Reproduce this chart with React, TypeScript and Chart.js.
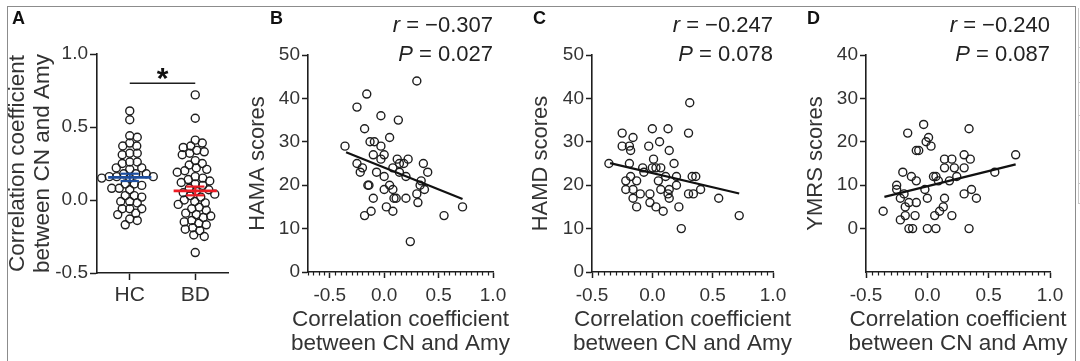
import React, { useEffect, useRef } from "react";
import { Chart, registerables } from "chart.js";

Chart.register(...registerables);

// ---------------- Data ----------------
// Panel A: correlation coefficient between CN and Amy per group
const groupLabels = ["HC", "BD"];
const hcCorr = [0.61, 0.55, 0.44, 0.43, 0.39, 0.37, 0.37, 0.32, 0.32, 0.31, 0.26, 0.26, 0.25, 0.22, 0.22, 0.21, 0.18, 0.18, 0.18, 0.16, 0.16, 0.16, 0.15, 0.15, 0.11, 0.11, 0.1, 0.08, 0.08, 0.07, 0.03, 0.03, 0.02, -0.01, -0.01, -0.02, -0.06, -0.06, -0.06, -0.09, -0.1, -0.13, -0.14, -0.17];
const bdCorr = [0.72, 0.56, 0.41, 0.39, 0.37, 0.36, 0.34, 0.33, 0.32, 0.31, 0.27, 0.25, 0.24, 0.22, 0.21, 0.2, 0.19, 0.16, 0.15, 0.14, 0.13, 0.12, 0.11, 0.1, 0.08, 0.07, 0.06, 0.05, 0.04, 0.03, 0.02, 0.0, -0.01, -0.02, -0.03, -0.05, -0.06, -0.07, -0.09, -0.1, -0.11, -0.12, -0.14, -0.15, -0.16, -0.17, -0.19, -0.2, -0.21, -0.24, -0.25, -0.36];
const groupMeans = [0.155, 0.062];
const groupSems = [0.025, 0.03];
const sigLevel = 0.8;
const sigMark = "*";
const aYTicks = [1.0, 0.5, 0.0, -0.5];
const aYTitle = ["Correlation coefficient", "between CN and Amy"];

// Panels B-D: BD correlation vs clinical scores
const hamaX = [-0.36, -0.25, -0.16, -0.18, -0.03, 0.13, 0.3, 0.05, -0.13, -0.09, -0.03, -0.1, 0.0, -0.03, -0.25, -0.2, -0.22, -0.07, 0.0, 0.08, 0.12, 0.14, 0.18, 0.22, 0.14, 0.2, 0.36, 0.4, 0.34, 0.33, 0.37, 0.3, 0.31, 0.05, 0.0, 0.08, 0.09, 0.11, 0.2, -0.15, -0.14, -0.1, 0.02, 0.08, -0.12, -0.18, 0.55, 0.72, 0.24];
const hamaY = [29, 38, 41, 33, 36, 35, 44, 31, 30, 30, 29, 27, 27, 26, 25, 24, 23, 23, 22, 24, 26, 25, 25, 26, 23, 22, 25, 23, 21, 20, 19, 18, 16, 20, 19, 19, 17, 17, 17, 20, 20, 17, 15, 14, 14, 13, 13, 15, 7];
const hamdX = [-0.36, -0.25, -0.25, -0.19, -0.16, -0.18, -0.19, -0.22, -0.18, -0.22, -0.13, -0.16, -0.1, -0.16, -0.13, -0.08, -0.07, -0.03, 0.0, 0.06, 0.01, 0.0, 0.03, -0.02, -0.02, 0.03, 0.09, 0.07, 0.11, 0.05, 0.07, 0.13, 0.14, 0.14, 0.13, 0.14, 0.18, 0.2, 0.2, 0.22, 0.24, 0.31, 0.3, 0.3, 0.34, 0.33, 0.36, 0.4, 0.55, 0.72];
const hamdY = [25, 32, 29, 29, 31, 28, 25, 21, 22, 19, 21, 19, 18, 17, 15, 24, 23, 29, 33, 30, 26, 24, 24, 18, 16, 15, 14, 24, 22, 21, 19, 18, 19, 17, 33, 28, 25, 22, 20, 15, 10, 39, 32, 18, 18, 22, 22, 19, 17, 13];
const ymrsX = [-0.36, -0.25, -0.25, -0.2, -0.22, -0.19, -0.22, -0.18, -0.18, -0.15, -0.16, -0.13, -0.09, -0.09, -0.1, -0.15, -0.12, -0.09, -0.07, -0.03, 0.01, -0.01, 0.03, -0.02, 0.0, 0.0, 0.07, 0.05, 0.07, 0.09, 0.06, 0.1, 0.13, 0.14, 0.14, 0.14, 0.18, 0.2, 0.22, 0.24, 0.2, 0.3, 0.3, 0.3, 0.34, 0.35, 0.36, 0.4, 0.34, 0.55, 0.72];
const ymrsY = [4, 10, 9, 13, 7, 8, 2, 3, 5, 6, 22, 12, 11, 6, 3, 0, 0, 18, 18, 24, 21, 20, 19, 9, 7, 0, 0, 12, 12, 11, 3, 4, 5, 7, 14, 16, 11, 16, 14, 12, 3, 17, 14, 8, 23, 16, 9, 7, 0, 13, 17];
const fitX = [-0.35, 0.72];
const hamaFitY = [27.6, 16.8];
const hamdFitY = [25.1, 18.1];
const ymrsFitY = [7.3, 14.8];
const statR = ["\u22120.307", "\u22120.247", "\u22120.240"];
const statP = ["0.027", "0.078", "0.087"];
const scoreTitles = ["HAMA scores", "HAMD scores", "YMRS scores"];
const corrTicks = [-0.5, 0.0, 0.5, 1.0];
const xTitle = ["Correlation coefficient", "between CN and Amy"];

// ---------------- Styles ----------------
const FONT = "'Liberation Sans', Arial, Helvetica, sans-serif";
const TEXT = "#333333";
const INK = "#1e1e1e";
const groupColors = ["#1d4e9e", "#ec1c24"];
const W = 1080;
const H = 361;

function swarmOffsets(values: number[], pxPerUnit: number, diam: number): number[] {
  const order = values.map((_, i) => i).sort((a, b) => values[b] - values[a]);
  const placed: { x: number; y: number }[] = [];
  const out = new Array(values.length).fill(0);
  for (const i of order) {
    const y = values[i] * pxPerUnit;
    let best = 0;
    for (let k = 0; k < 400; k++) {
      const cand = (k % 2 === 1 ? 1 : -1) * Math.ceil(k / 2) * 0.5;
      let ok = true;
      for (const p of placed) {
        const dx = p.x - cand;
        const dy = p.y - y;
        if (dx * dx + dy * dy < diam * diam) { ok = false; break; }
      }
      if (ok) { best = cand; break; }
    }
    placed.push({ x: best, y });
    out[i] = best;
  }
  return out;
}

function yAxis(min: number, max: number, ticks: number[], fmt: (v: number) => string, title: any, titleSize: number, titleLH: number, width: number, tickLen: number) {
  return {
    type: "linear",
    position: "left",
    min,
    max,
    afterBuildTicks: (s: any) => { s.ticks = ticks.map((v) => ({ value: v })); },
    afterFit: (s: any) => { s.width = width; },
    ticks: { font: { family: FONT, size: 19 }, color: TEXT, padding: 2, autoSkip: false, maxRotation: 0, callback: (v: any) => fmt(Number(v)) },
    grid: { display: true, drawOnChartArea: false, drawTicks: true, tickLength: tickLen, tickWidth: 1.5, tickColor: INK },
    border: { display: true, color: INK, width: 1.6 },
    title: { display: true, text: title, color: TEXT, padding: 0, font: { family: FONT, size: titleSize, lineHeight: titleLH } },
  };
}

function xAxis(min: number, max: number, ticks: number[], fmt: (v: number) => string, height: number, fontSize: number, pad: number, tickLen: number) {
  return {
    type: "linear",
    position: "bottom",
    min,
    max,
    afterBuildTicks: (s: any) => { s.ticks = ticks.map((v) => ({ value: v })); },
    afterFit: (s: any) => { s.height = height; },
    ticks: { font: { family: FONT, size: fontSize }, color: TEXT, padding: pad, autoSkip: false, maxRotation: 0, callback: (v: any) => fmt(Number(v)) },
    grid: { display: true, drawOnChartArea: false, drawTicks: true, tickLength: tickLen, tickWidth: 1.5, tickColor: INK },
    border: { display: true, color: INK, width: 1.6 },
  };
}

function drawLetter(ctx: CanvasRenderingContext2D, letter: string, x: number) {
  ctx.font = `bold 18px ${FONT}`;
  ctx.fillStyle = "#111";
  ctx.textAlign = "left";
  ctx.textBaseline = "middle";
  ctx.fillText(letter, x, 19);
}

function drawStat(ctx: CanvasRenderingContext2D, sym: string, rest: string, xRight: number, y: number) {
  ctx.fillStyle = "#222";
  ctx.textBaseline = "middle";
  ctx.font = `22px ${FONT}`;
  const w = ctx.measureText(rest).width;
  ctx.textAlign = "right";
  ctx.fillText(rest, xRight, y);
  ctx.font = `italic 22px ${FONT}`;
  ctx.fillText(sym, xRight - w, y);
}

// ---------------- Panel A ----------------
const A_AREA = { left: 97, top: 54, right: 228, bottom: 273 };
function panelAConfig() {
  const yPx = (A_AREA.bottom - A_AREA.top) / 1.5;
  const xPx = (A_AREA.right - A_AREA.left) / 2;
  const groups = [hcCorr, bdCorr];
  const pointSets = groups.map((vals, g) => {
    const offs = swarmOffsets(vals, yPx, 7.2);
    return vals.map((v, i) => ({ x: g + offs[i] / xPx, y: v }));
  });
  const lineDs = (pts: any[], color: string, width: number) => ({
    data: pts, showLine: true, borderColor: color, borderWidth: width, pointRadius: 0, fill: false, clip: false,
  });
  const datasets: any[] = [];
  groupMeans.forEach((m, g) => {
    const s = groupSems[g];
    const c = groupColors[g];
    datasets.push(lineDs([{ x: g - 0.33, y: m }, { x: g + 0.33, y: m }], c, 2.8));
    datasets.push(lineDs([{ x: g, y: m - s }, { x: g, y: m + s }], c, 2.2));
    datasets.push(lineDs([{ x: g - 0.14, y: m + s }, { x: g + 0.14, y: m + s }], c, 2.2));
    datasets.push(lineDs([{ x: g - 0.14, y: m - s }, { x: g + 0.14, y: m - s }], c, 2.2));
  });
  datasets.push(lineDs([{ x: 0, y: sigLevel }, { x: 1, y: sigLevel }], INK, 1.6));
  pointSets.forEach((pts) => {
    datasets.push({ data: pts, pointRadius: 4, borderWidth: 1.4, borderColor: INK, backgroundColor: "rgba(255,255,255,0)", pointHoverRadius: 4 });
  });
  const titleCenter = 18;
  const lh = 25;
  const padLeft = titleCenter - lh / 2;
  return {
    type: "scatter",
    data: { datasets },
    options: {
      animation: false, responsive: false, maintainAspectRatio: false, devicePixelRatio: 1, events: [],
      layout: { padding: { left: padLeft, top: A_AREA.top, right: W - A_AREA.right, bottom: 0 } },
      plugins: { legend: { display: false }, tooltip: { enabled: false } },
      scales: {
        x: xAxis(-0.5, 1.5, [0, 1], (v) => groupLabels[Math.round(v)] ?? "", H - A_AREA.bottom, 21, 3, 7),
        y: yAxis(-0.5, 1.0, aYTicks, (v) => v.toFixed(1), aYTitle, 22.5, lh / 22.5, A_AREA.left - padLeft, 7),
      },
    },
    plugins: [{
      id: "overlayA",
      afterDraw(chart: any) {
        const ctx = chart.ctx as CanvasRenderingContext2D;
        ctx.save();
        drawLetter(ctx, "A", 12);
        const xs = chart.scales.x;
        const ys = chart.scales.y;
        ctx.font = `bold 30px ${FONT}`;
        ctx.fillStyle = "#111";
        ctx.textAlign = "center";
        ctx.textBaseline = "alphabetic";
        ctx.fillText(sigMark, xs.getPixelForValue(0.5), ys.getPixelForValue(sigLevel) + 4.5);
        ctx.restore();
      },
    }],
  };
}

// ---------------- Panels B-D ----------------
const scatterPanels = [
  { letter: "B", letterX: 270, area: { left: 308, top: 55, right: 493, bottom: 272 }, xMin: -0.7, yMin: 0, yMax: 50, yTicks: [0, 10, 20, 30, 40, 50], xs: hamaX, ys: hamaY, fitY: hamaFitY, titleCenter: 258 },
  { letter: "C", letterX: 533, area: { left: 592, top: 55, right: 773, bottom: 272 }, xMin: -0.5, yMin: 0, yMax: 50, yTicks: [0, 10, 20, 30, 40, 50], xs: hamdX, ys: hamdY, fitY: hamdFitY, titleCenter: 541 },
  { letter: "D", letterX: 807, area: { left: 866, top: 55, right: 1050, bottom: 272 }, xMin: -0.5, yMin: -10, yMax: 40, yTicks: [0, 10, 20, 30, 40], xs: ymrsX, ys: ymrsY, fitY: ymrsFitY, titleCenter: 816 },
];

function scatterConfig(idx: number) {
  const p = scatterPanels[idx];
  const lh = 22 * 1.2;
  const padLeft = p.titleCenter - lh / 2;
  const xMax = 1.0;
  return {
    type: "scatter",
    data: {
      datasets: [
        { data: fitX.map((x, i) => ({ x, y: p.fitY[i] })), showLine: true, borderColor: "#111", borderWidth: 2.2, pointRadius: 0, fill: false },
        { data: p.xs.map((x, i) => ({ x, y: p.ys[i] })), pointRadius: 4, borderWidth: 1.4, borderColor: INK, backgroundColor: "rgba(255,255,255,0)", pointHoverRadius: 4 },
      ],
    },
    options: {
      animation: false, responsive: false, maintainAspectRatio: false, devicePixelRatio: 1, events: [],
      layout: { padding: { left: padLeft, top: p.area.top, right: W - p.area.right, bottom: 0 } },
      plugins: { legend: { display: false }, tooltip: { enabled: false } },
      scales: {
        x: xAxis(p.xMin, xMax, corrTicks, (v) => v.toFixed(1), H - p.area.bottom, 19, 6, 6),
        y: yAxis(p.yMin, p.yMax, p.yTicks, (v) => String(Math.round(v)), scoreTitles[idx], 22, 1.2, p.area.left - padLeft, 6),
      },
    },
    plugins: [{
      id: "overlay" + p.letter,
      afterDraw(chart: any) {
        const ctx = chart.ctx as CanvasRenderingContext2D;
        const xs = chart.scales.x;
        const area = chart.chartArea;
        ctx.save();
        // minor ticks every 0.05
        ctx.strokeStyle = INK;
        ctx.lineWidth = 1.2;
        const steps = Math.round((xMax - p.xMin) / 0.05);
        for (let k = 0; k <= steps; k++) {
          const v = Math.round((p.xMin + k * 0.05) * 100) / 100;
          if (corrTicks.some((t) => Math.abs(t - v) < 1e-6)) continue;
          const px = Math.round(xs.getPixelForValue(v)) + 0.5;
          ctx.beginPath();
          ctx.moveTo(px, area.bottom);
          ctx.lineTo(px, area.bottom + 3.5);
          ctx.stroke();
        }
        drawLetter(ctx, p.letter, p.letterX);
        drawStat(ctx, "r", " = " + statR[idx], area.right, 26);
        drawStat(ctx, "P", " = " + statP[idx], area.right, 55);
        // x title
        ctx.font = `22.5px ${FONT}`;
        ctx.fillStyle = TEXT;
        ctx.textAlign = "center";
        ctx.textBaseline = "middle";
        const cx = (area.left + area.right) / 2;
        ctx.fillText(xTitle[0], cx, 320);
        ctx.fillText(xTitle[1], cx, 343.5);
        ctx.restore();
      },
    }],
  };
}

export default function App() {
  const r0 = useRef<HTMLCanvasElement>(null);
  const r1 = useRef<HTMLCanvasElement>(null);
  const r2 = useRef<HTMLCanvasElement>(null);
  const r3 = useRef<HTMLCanvasElement>(null);
  const refs = [r0, r1, r2, r3];

  useEffect(() => {
    const configs: any[] = [panelAConfig(), scatterConfig(0), scatterConfig(1), scatterConfig(2)];
    const charts = configs.map((cfg, i) => new Chart(refs[i].current as HTMLCanvasElement, cfg));
    return () => charts.forEach((c) => c.destroy());
  }, []);

  const frame = "1.5px solid #8c8c8c";
  return (
    <div style={{ position: "fixed", left: 0, top: 0, width: W, height: H, background: "#fff", overflow: "hidden" }}>
      <div style={{ position: "absolute", left: 7, top: 6, width: 1069, height: 360, boxSizing: "border-box", borderLeft: frame, borderTop: frame, borderRight: frame }} />
      <div style={{ position: "absolute", left: 1078, top: 8, width: 4, height: 196, borderLeft: "1px solid #c8c8c8" }} />
      {[47, 82, 115, 150, 183, 203].map((y) => (
        <div key={y} style={{ position: "absolute", left: 1078, top: y, width: 4, height: 0, borderTop: "1px solid #c8c8c8" }} />
      ))}
      {refs.map((r, i) => (
        <canvas key={i} ref={r} width={W} height={H} style={{ position: "absolute", left: 0, top: 0, width: W, height: H }} />
      ))}
    </div>
  );
}
